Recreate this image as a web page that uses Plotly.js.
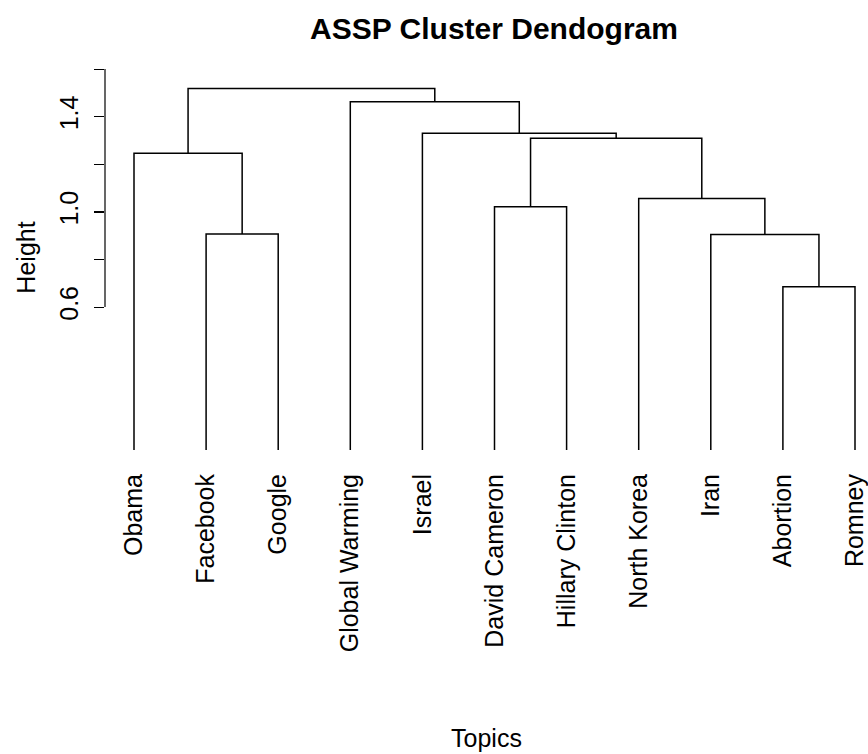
<!DOCTYPE html>
<html>
<head>
<meta charset="utf-8">
<script src="https://cdn.plot.ly/plotly-3.0.1.min.js"></script>
<style>html,body{margin:0;padding:0;background:#fff;}#chart{width:868px;height:754px;}</style>
</head>
<body>
<div id="chart"></div>
<script>
// Leaf labels in dendrogram order
var labels = ['Obama','Facebook','Google','Global Warming','Israel','David Cameron','Hillary Clinton','North Korea','Iran','Abortion','Romney'];
// hclust-style merges: negative = leaf (1-based), positive = earlier merge (1-based)
var mergeA = [-10, -2, -9, -6, -8, -1, 4, -5, -4, 6];
var mergeB = [-11, -3, 1, -7, 3, 2, 5, 7, 8, 9];
var heights = [0.685, 0.907, 0.905, 1.022, 1.056, 1.246, 1.309, 1.330, 1.463, 1.518];
// y axis ticks
var yTickVals = [0.6, 0.8, 1.0, 1.2, 1.4, 1.6];
var yTickText = ['0.6', '', '1.0', '', '1.4', ''];

var leafX = labels.map(function(_, i){ return i + 1; });
var nodeX = [], nodeH = [];
function info(ref){
  if (ref < 0) return {x: leafX[-ref - 1], h: 0};
  return {x: nodeX[ref - 1], h: nodeH[ref - 1]};
}
var xs = [], ys = [];
for (var k = 0; k < heights.length; k++){
  var a = info(mergeA[k]), b = info(mergeB[k]), H = heights[k];
  xs.push(a.x, a.x, b.x, b.x, null);
  ys.push(a.h, H, H, b.h, null);
  nodeX.push((a.x + b.x) / 2);
  nodeH.push(H);
}

var font = 'Liberation Sans, Arial, Helvetica, sans-serif';
var data = [{
  type: 'scatter', mode: 'lines', x: xs, y: ys,
  line: {color: '#000', width: 1.5}, hoverinfo: 'skip', showlegend: false
}];
var layout = {
  width: 868, height: 754,
  margin: {l: 105, r: 0, t: 60, b: 299},
  paper_bgcolor: '#fff', plot_bgcolor: '#fff',
  font: {family: font, size: 25, color: '#000'},
  showlegend: false,
  title: {text: 'ASSP Cluster Dendogram', font: {family: font, size: 30, weight: 'bold', color: '#000'},
          xref: 'container', x: 494/868, xanchor: 'center', yref: 'container', y: 1 - 28/754, yanchor: 'middle'},
  xaxis: {
    range: [1 - 29/72.1, 1 + (868 - 134)/72.1],
    tickmode: 'array', tickvals: leafX, ticktext: labels, tickangle: -90,
    ticks: '', showline: false, showgrid: false, zeroline: false,
    ticklabelstandoff: 13, ticklabeloverflow: 'allow',
    tickfont: {family: font, size: 25, color: '#000'},
    title: {text: 'Topics', standoff: 78, font: {family: font, size: 25, color: '#000'}}
  },
  yaxis: {
    range: [1.4 - (455 - 116.7)/238, 1.4 + (116.7 - 60)/238],
    tickmode: 'array', tickvals: yTickVals, ticktext: yTickText, tickangle: -90,
    ticks: 'outside', ticklen: 10, tickwidth: 1.2, tickcolor: '#000',
    showline: false, showgrid: false, zeroline: false,
    ticklabelstandoff: 6,
    tickfont: {family: font, size: 25, color: '#000'},
    title: {text: 'Height', standoff: 12, font: {family: font, size: 25, color: '#000'}}
  },
  shapes: [{type: 'line', xref: 'paper', x0: 0, x1: 0, yref: 'y',
            y0: yTickVals[0], y1: yTickVals[yTickVals.length - 1],
            line: {color: '#000', width: 1.2}}]
};
Plotly.newPlot('chart', data, layout, {staticPlot: true, displayModeBar: false});
</script>
</body>
</html>
